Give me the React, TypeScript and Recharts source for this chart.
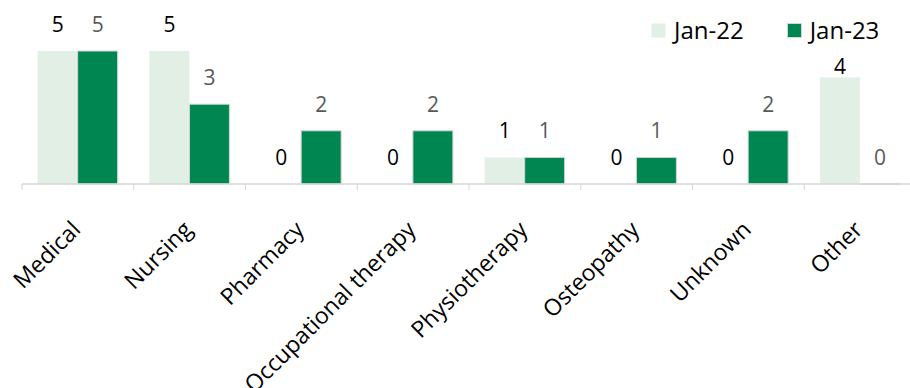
import React from 'react';
import { Bar, BarChart, LabelList, Legend, XAxis, YAxis } from 'recharts';

// 按专业分组的人数对比(Jan-22 vs Jan-23)
const categories = [
  'Medical',
  'Nursing',
  'Pharmacy',
  'Occupational therapy',
  'Physiotherapy',
  'Osteopathy',
  'Unknown',
  'Other',
];
const jan22 = [5, 5, 0, 0, 1, 0, 0, 4];
const jan23 = [5, 3, 2, 2, 1, 1, 2, 0];

const LIGHT = '#e2efe5';
const DARK = '#008751';
const BORDER = '#d6d6d6';
const FONT = '"Open Sans", "Noto Sans", sans-serif';

const data = categories.map((name, i) => ({ name, jan22: jan22[i], jan23: jan23[i] }));

// 图例区域右侧的标签贴近柱顶,避免和图例挤在一起
const LEGEND_LEFT = 640;

// 值为 0 的柱子给一个极小的高度,这样数值标签仍然会画出来
const zeroSize = (value: any) => (Number(value) === 0 ? 0.01 : 0);

function makeLabel(color: string) {
  return (props: any) => {
    const { x, y, width, height, value } = props;
    const cx = Number(x) + Number(width) / 2;
    const top = Math.min(Number(y), Number(y) + Number(height));
    const offset = Number(x) > LEGEND_LEFT && top < 90 ? 4 : 19;
    return (
      <text
        x={cx}
        y={top - offset}
        textAnchor="middle"
        fill={color}
        fontSize={21}
        fontFamily={FONT}
      >
        {value}
      </text>
    );
  };
}

function CategoryTick(props: any) {
  const { x, y, payload, index, visibleTicksCount } = props;
  const half = payload?.offset ?? 0;
  const top = y - 8;
  const ax = x + 4;
  const ay = top + 47;
  return (
    <g>
      <line x1={x - half} x2={x - half} y1={top} y2={top + 6} stroke={BORDER} />
      {index === visibleTicksCount - 1 && (
        <line x1={x + half} x2={x + half} y1={top} y2={top + 6} stroke={BORDER} />
      )}
      <text
        x={ax}
        y={ay}
        textAnchor="end"
        transform={`rotate(-45, ${ax}, ${ay})`}
        fontSize={23}
        fontFamily={FONT}
        fill="#000"
      >
        {payload.value}
      </text>
    </g>
  );
}

function LegendContent() {
  const items = [
    { label: 'Jan-22', fill: LIGHT, stroke: 'none' },
    { label: 'Jan-23', fill: DARK, stroke: BORDER },
  ];
  return (
    <div style={{ display: 'flex', alignItems: 'center', fontFamily: FONT, fontSize: 24 }}>
      {items.map((it, i) => (
        <div
          key={it.label}
          style={{ display: 'flex', alignItems: 'center', marginLeft: i ? 43 : 0 }}
        >
          <svg width={15} height={15} style={{ marginRight: 8 }}>
            <rect
              x={0.5}
              y={0.5}
              width={14}
              height={14}
              fill={it.fill}
              stroke={it.stroke}
            />
          </svg>
          <span style={{ color: '#000', lineHeight: '32px' }}>{it.label}</span>
        </div>
      ))}
    </div>
  );
}

export default function App() {
  return (
    <div
      style={{
        position: 'absolute',
        left: 0,
        top: 0,
        width: 910,
        height: 388,
        overflow: 'hidden',
        background: '#fff',
      }}
    >
      <BarChart
        width={930}
        height={388}
        data={data}
        margin={{ top: 51, right: 14, left: 22, bottom: 0 }}
        barCategoryGap="14%"
        barGap={0}
      >
        <XAxis
          dataKey="name"
          interval={0}
          height={204}
          tickLine={false}
          axisLine={{ stroke: BORDER, strokeWidth: 1.5 }}
          tick={<CategoryTick />}
        />
        <YAxis hide domain={[0, 5]} />
        <Legend
          layout="horizontal"
          verticalAlign="middle"
          align="center"
          wrapperStyle={{ top: 14, left: 651, width: 'auto' }}
          content={<LegendContent />}
        />
        <Bar
          dataKey="jan22"
          name="Jan-22"
          fill={LIGHT}
          minPointSize={zeroSize}
          isAnimationActive={false}
        >
          <LabelList dataKey="jan22" content={makeLabel('#000')} />
        </Bar>
        <Bar
          dataKey="jan23"
          name="Jan-23"
          fill={DARK}
          stroke={BORDER}
          strokeWidth={1}
          minPointSize={zeroSize}
          isAnimationActive={false}
        >
          <LabelList dataKey="jan23" content={makeLabel('#595959')} />
        </Bar>
      </BarChart>
    </div>
  );
}
